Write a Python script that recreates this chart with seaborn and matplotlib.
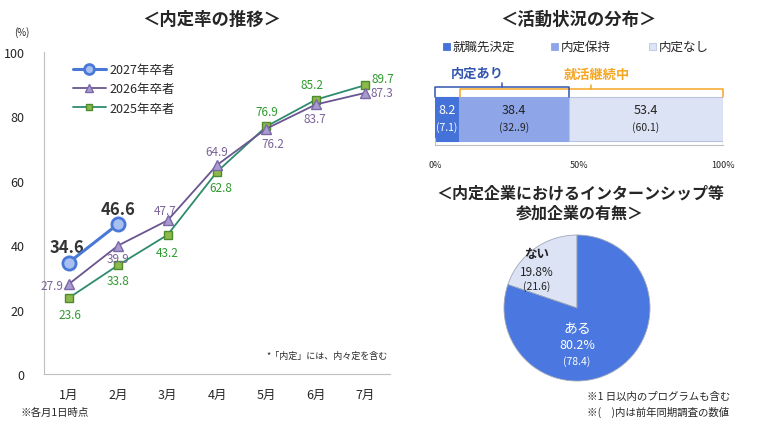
import numpy as np
import pandas as pd
import seaborn as sns
import matplotlib.pyplot as plt
from matplotlib.patches import FancyBboxPatch

# --- data ---
months = ['1月', '2月', '3月', '4月', '5月', '6月', '7月']
rate_2027 = [34.6, 46.6]
rate_2026 = [27.9, 39.9, 47.7, 64.9, 76.2, 83.7, 87.3]
rate_2025 = [23.6, 33.8, 43.2, 62.8, 76.9, 85.2, 89.7]

status_labels = ['就職先決定', '内定保持', '内定なし']
status_now = [8.2, 38.4, 53.4]
status_prev = ['(7.1)', '(32..9)', '(60.1)']

pie_labels = ['ない', 'ある']
pie_now = [19.8, 80.2]
pie_prev = ['(21.6)', '(78.4)']

W, H = 771, 439

sns.set_style('white')
plt.rcParams['font.family'] = ['Noto Sans CJK JP', 'DejaVu Sans']

fig = plt.figure(figsize=(W / 100, H / 100), dpi=100)


def px(x, y):
    return x / W, 1 - y / H


def ftext(x, y, s, **kw):
    fig.text(*px(x, y), s, **kw)


def axes_px(x0, y0, x1, y1):
    return fig.add_axes([x0 / W, 1 - y1 / H, (x1 - x0) / W, (y1 - y0) / H])


# --- 1. line chart ---
ax = axes_px(44, 53, 390, 375)
xs = np.arange(len(months))

c27, c26, c25 = '#4A78D8', '#6A5590', '#2E8B6E'
sns.lineplot(x=xs[:len(rate_2027)], y=rate_2027, ax=ax, color=c27, lw=2.2,
             marker='o', markersize=9.5, markerfacecolor='#A8C0F0',
             markeredgecolor=c27, markeredgewidth=2, label='2027年卒者', zorder=5)
sns.lineplot(x=xs, y=rate_2026, ax=ax, color=c26, lw=1.3,
             marker='^', markersize=7.5, markerfacecolor='#A99AD0',
             markeredgecolor='#7A68A8', markeredgewidth=1, label='2026年卒者', zorder=4)
sns.lineplot(x=xs, y=rate_2025, ax=ax, color=c25, lw=1.3,
             marker='s', markersize=6, markerfacecolor='#8DB84A',
             markeredgecolor='#4E8A2E', markeredgewidth=1, label='2025年卒者', zorder=3)

ax.set_xlim(-0.5, 6.5)
ax.set_ylim(0, 100)
ax.set_yticks(range(0, 101, 20))
ax.set_xticks(xs)
ax.set_xticklabels(months, fontsize=9)
ax.set_xticks(np.arange(-0.5, 6.6, 1), minor=True)
ax.tick_params(axis='x', which='major', length=0, pad=10)
ax.tick_params(axis='x', which='minor', direction='in', length=4, color='#BFBFBF')
ax.tick_params(axis='y', direction='out', length=4, color='#BFBFBF', labelsize=9, pad=10)
for s in ['top', 'right']:
    ax.spines[s].set_visible(False)
for s in ['left', 'bottom']:
    ax.spines[s].set_color('#BFBFBF')

leg = ax.legend(loc='upper left', bbox_to_anchor=(0.05, 1.0), frameon=False,
                fontsize=9, handlelength=2.7, labelspacing=0.5, handletextpad=0.25,
                markerscale=0.75)

# value labels (offsets in points)
lab27 = [(-1, 11), (0, 11)]
lab26 = [(-12, -1), (0, -9), (-2, 7), (0, 10), (5, -11), (-1, -10), (12, 0)]
lab25 = [(1, -12), (0, -11), (0, -13), (3, -11), (0, 11), (-3, 11), (13, 5)]
for i, v in enumerate(rate_2027):
    ax.annotate(f'{v}', (xs[i], v), xytext=lab27[i], textcoords='offset points',
                ha='center', va='center', fontsize=12, fontweight='bold', color='#333333')
for i, v in enumerate(rate_2026):
    ax.annotate(f'{v}', (xs[i], v), xytext=lab26[i], textcoords='offset points',
                ha='center', va='center', fontsize=8.5, color='#7A6399')
for i, v in enumerate(rate_2025):
    ax.annotate(f'{v}', (xs[i], v), xytext=lab25[i], textcoords='offset points',
                ha='center', va='center', fontsize=8.5, color='#2E9A2E')

ftext(212, 20, '＜内定率の推移＞', ha='center', va='center', fontsize=12.5, fontweight='bold')
ftext(22, 33, '(%)', ha='center', va='center', fontsize=7)
ftext(20, 413, '※各月1日時点', ha='left', va='center', fontsize=7.5)
ftext(388, 356, '*「内定」には、内々定を含む', ha='right', va='center', fontsize=6.5)

# --- 2. stacked bar ---
bx = axes_px(435, 85, 723, 146)
colors = ['#4472D8', '#8EA6E8', '#DCE3F5']
left = 0
for v, c in zip(status_now, colors):
    bx.barh(0.43, v, left=left, height=0.72, color=c,
            edgecolor='#B8C4E0' if c == '#DCE3F5' else c, lw=0.8)
    left += v
bx.set_xlim(0, 100)
bx.set_ylim(0, 1)
bx.set_yticks([])
bx.set_xticks([0, 50, 100])
bx.set_xticklabels(['0%', '50%', '100%'], fontsize=6.5)
bx.tick_params(axis='x', direction='inout', length=5, color='#BFBFBF', pad=8)
for s in ['top', 'right', 'left']:
    bx.spines[s].set_visible(False)
bx.spines['bottom'].set_color('#BFBFBF')
bx.axvline(0, ymin=0, ymax=0.12, color='#BFBFBF', lw=0.8)
bx.axvline(100, ymin=0, ymax=0.12, color='#BFBFBF', lw=0.8)

left = 0
for i, (v, p) in enumerate(zip(status_now, status_prev)):
    col = 'white' if i == 0 else '#222222'
    cx = left + v / 2
    bx.text(cx, 0.58, f'{v}', ha='center', va='center', fontsize=9, color=col)
    bx.text(cx, 0.30, p, ha='center', va='center', fontsize=7.5, color=col)
    left += v


def bracket(a, b, ytop, color, ybase=0.79):
    m = (a + b) / 2
    bx.plot([a, a, b, b], [ybase, ytop, ytop, ybase], color=color, lw=1.1,
            clip_on=False, solid_joinstyle='round')
    bx.plot([m, m], [ytop, ytop + 0.07], color=color, lw=1.1, clip_on=False)


bracket(8.6, 100, 0.91, '#F5A623')
bracket(0, 46.6, 0.95, '#3355B0')
ftext(477, 74, '内定あり', ha='center', va='center', fontsize=9.5, fontweight='bold', color='#3355B0')
ftext(597, 75, '就活継続中', ha='center', va='center', fontsize=9.5, fontweight='bold', color='#F5A623')

ftext(578, 20, '＜活動状況の分布＞', ha='center', va='center', fontsize=12.5, fontweight='bold')
lx = [447, 555, 653]
for x, t, c in zip(lx, status_labels, colors):
    fig.patches.append(FancyBboxPatch(px(x - 4, 51), 7 / W, 7 / H, boxstyle='square,pad=0',
                                      transform=fig.transFigure, fc=c,
                                      ec='#B8C4E0' if c == '#DCE3F5' else c, lw=0.6))
    ftext(x + 6, 47, t, ha='left', va='center', fontsize=9)

# --- 3. pie ---
r = 73
cx, cy = 577, 309
pax = axes_px(cx - r, cy - r, cx + r, cy + r)
pax.pie(pie_now, colors=['#DCE3F5', '#4A78E0'], startangle=90, counterclock=True,
        wedgeprops=dict(edgecolor='#A0A8B8', linewidth=0.6), radius=1.0)
pax.set_aspect('auto')
pax.set_xlim(-1, 1)
pax.set_ylim(-1, 1)

ftext(537, 255, pie_labels[0], ha='center', va='center', fontsize=9, fontweight='bold', color='#222222')
ftext(537, 272, f'{pie_now[0]}%', ha='center', va='center', fontsize=8.5, color='#222222')
ftext(537, 287, pie_prev[0], ha='center', va='center', fontsize=7.5, color='#222222')
ftext(577, 328, pie_labels[1], ha='center', va='center', fontsize=10, color='white')
ftext(577, 346, f'{pie_now[1]}%', ha='center', va='center', fontsize=9, color='white')
ftext(577, 362, pie_prev[1], ha='center', va='center', fontsize=7.5, color='white')

ftext(580, 193, '＜内定企業におけるインターンシップ等', ha='center', va='center', fontsize=11.5, fontweight='bold')
ftext(580, 214, '参加企業の有無＞', ha='center', va='center', fontsize=11.5, fontweight='bold')
ftext(587, 397, '※1 日以内のプログラムも含む', ha='left', va='center', fontsize=7.5)
ftext(587, 412, '※(　)内は前年同期調査の数値', ha='left', va='center', fontsize=7.5)

fig.savefig('out.png', dpi=100)
